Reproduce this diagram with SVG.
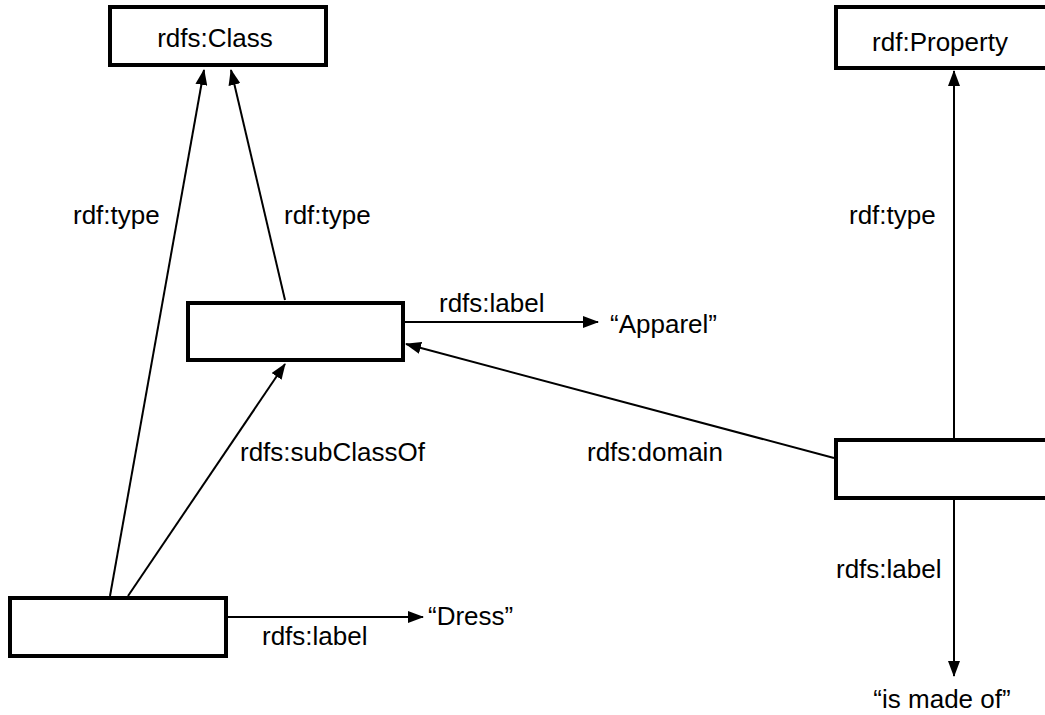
<svg xmlns="http://www.w3.org/2000/svg" width="1045" height="715" viewBox="0 0 1045 715">
<style>
.node{fill:#fff;stroke:#000;stroke-width:4}
.edge{stroke:#000;stroke-width:2;fill:none}
text{font-family:"Liberation Sans",Arial,sans-serif;font-size:26px;fill:#000}
</style>
<defs>
<marker id="ah" markerWidth="16" markerHeight="12" refX="15" refY="6" orient="auto" markerUnits="userSpaceOnUse">
<path d="M0,0 L16,6 L0,12 Z" fill="#000"/>
</marker>
</defs>
<rect width="1045" height="715" fill="#fff"/>
<g id="connectors">
<line class="edge" x1="110" y1="596" x2="204" y2="70" marker-end="url(#ah)"/>
<line class="edge" x1="285" y1="300" x2="231" y2="70" marker-end="url(#ah)"/>
<line class="edge" x1="128" y1="596" x2="285" y2="364" marker-end="url(#ah)"/>
<line class="edge" x1="405" y1="322" x2="598" y2="322" marker-end="url(#ah)"/>
<line class="edge" x1="834" y1="458" x2="406" y2="344" marker-end="url(#ah)"/>
<line class="edge" x1="954" y1="438" x2="954" y2="71" marker-end="url(#ah)"/>
<line class="edge" x1="954" y1="500" x2="954" y2="676" marker-end="url(#ah)"/>
<line class="edge" x1="228" y1="617" x2="423" y2="617" marker-end="url(#ah)"/>
<text x="73" y="224">rdf:type</text>
<text x="284" y="224">rdf:type</text>
<text x="849" y="224">rdf:type</text>
<text x="439" y="312">rdfs:label</text>
<text x="240" y="461">rdfs:subClassOf</text>
<text x="587" y="461">rdfs:domain</text>
<text x="262" y="645">rdfs:label</text>
<text x="836" y="578">rdfs:label</text>
</g>
<g id="rdfsClass">
<rect class="node" x="110" y="7" width="216" height="58"/>
<text x="215" y="47" text-anchor="middle">rdfs:Class</text>
</g>
<g id="rdfProperty">
<rect class="node" x="836" y="7" width="216" height="61"/>
<text x="940" y="51" text-anchor="middle">rdf:Property</text>
</g>
<g id="apparelNode">
<rect class="node" x="188" y="303" width="215" height="57"/>
</g>
<g id="apparelLiteral">
<text x="610" y="333">“Apparel”</text>
</g>
<g id="dressNode">
<rect class="node" x="10" y="598" width="216" height="58"/>
</g>
<g id="dressLiteral">
<text x="428" y="625">“Dress”</text>
</g>
<g id="propertyNode">
<rect class="node" x="836" y="440" width="216" height="58"/>
</g>
<g id="isMadeOfLiteral">
<text x="942" y="708" text-anchor="middle">“is made of”</text>
</g>
</svg>
